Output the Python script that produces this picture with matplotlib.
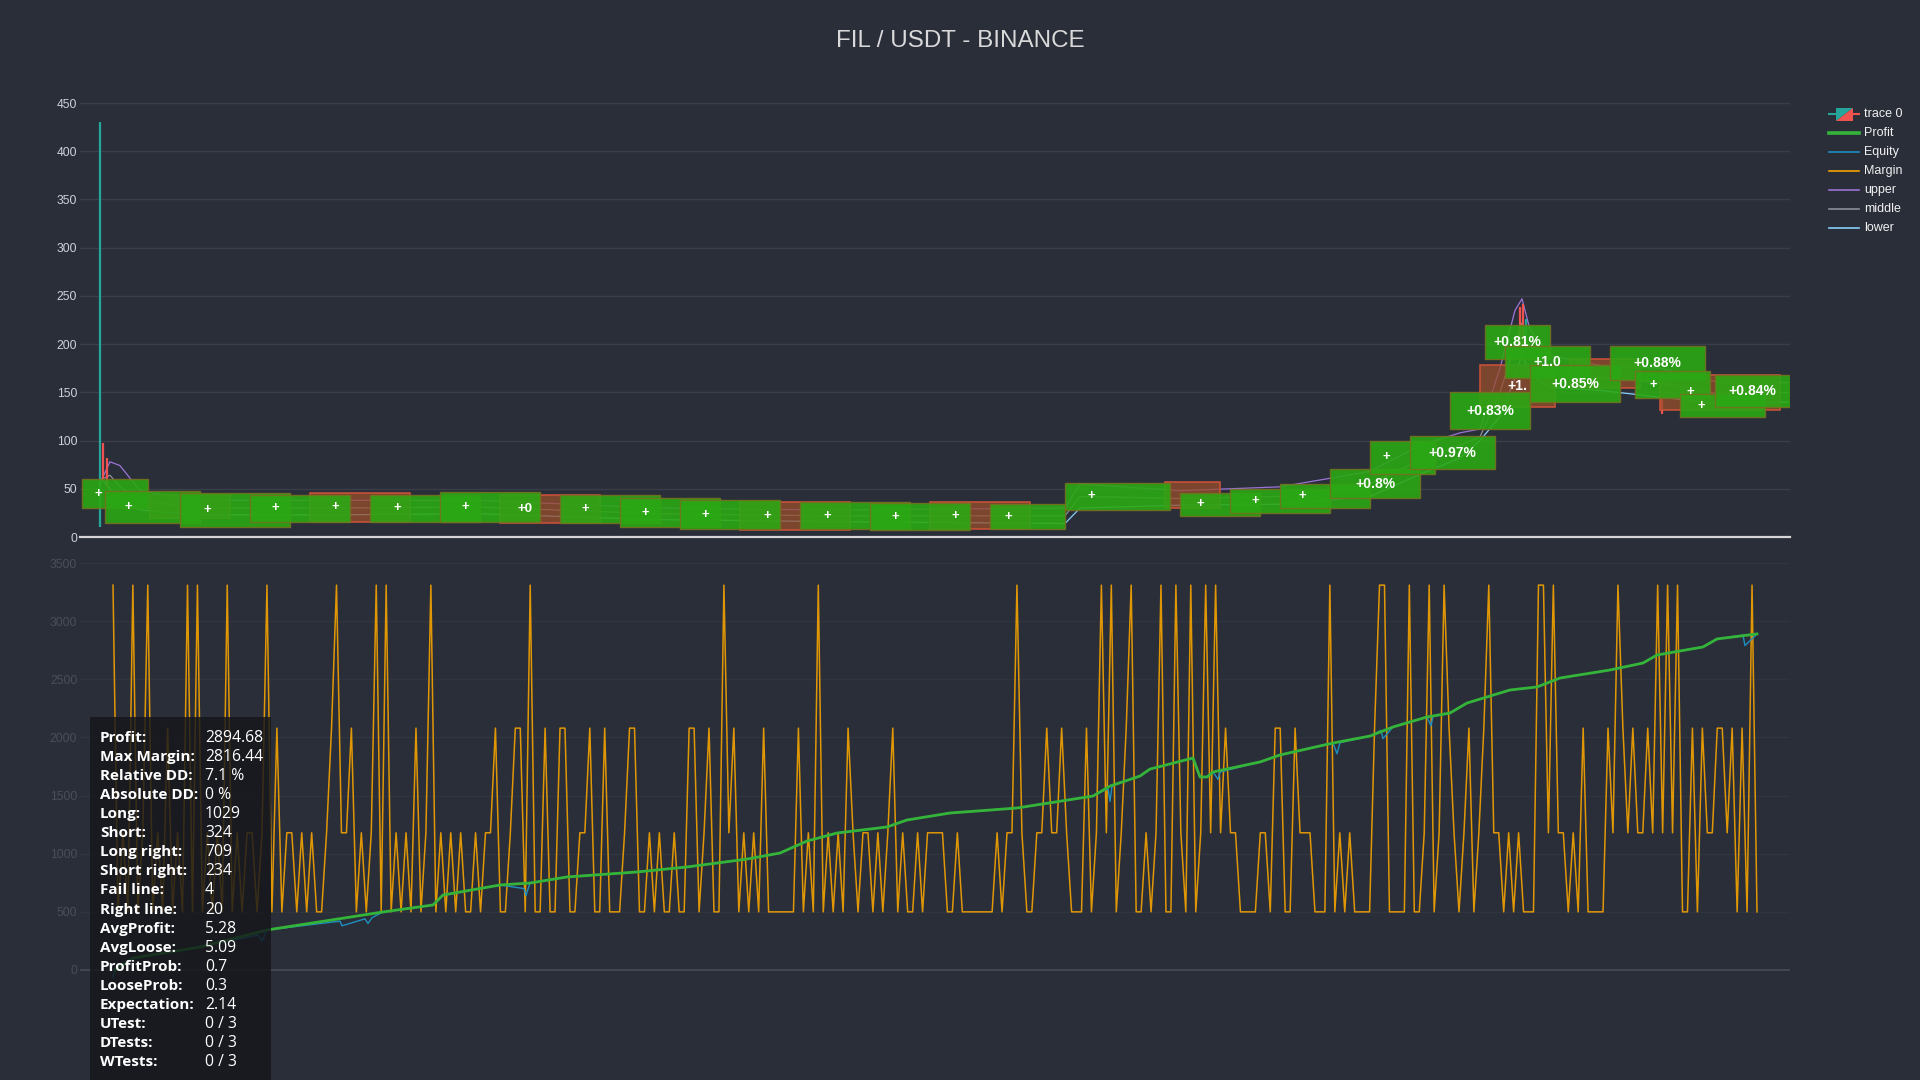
import matplotlib
matplotlib.use("Agg")
import matplotlib.pyplot as plt
from matplotlib.patches import Rectangle, Polygon
from matplotlib.lines import Line2D
import numpy as np

BG = "#2a2e39"
W, H = 1920, 1080

TITLE = "FIL / USDT - BINANCE"

# candles that poke out from under the trade boxes (bar index, low, high, rising)
candle_x = [20, 23, 27, 1440, 1443, 1446, 1582]
candle_lo = [10, 58, 52, 190, 200, 205, 128]
candle_hi = [430, 97, 82, 238, 242, 226, 146]
candle_up = [True, False, False, False, False, True, False]

# bollinger bands
band_x = [22, 30, 40, 60, 120, 250, 400, 580, 750, 985, 1000, 1100, 1200, 1290,
          1340, 1380, 1400, 1420, 1435, 1442, 1450, 1470, 1520, 1580, 1640, 1708]
band_upper = [60, 78, 74, 48, 38, 38, 38, 30, 28, 30, 55, 48, 52, 68,
              95, 108, 112, 175, 235, 247, 215, 188, 178, 175, 160, 160]
band_middle = [60, 64, 52, 38, 30, 30, 31, 24, 22, 22, 42, 40, 42, 55,
               80, 95, 104, 150, 200, 222, 190, 170, 165, 160, 148, 150]
band_lower = [60, 50, 36, 28, 23, 23, 24, 18, 16, 14, 30, 33, 34, 42,
              65, 82, 100, 125, 165, 190, 168, 155, 152, 145, 138, 140]

# trades: start bar, end bar, low, high, winner, label
trade_x0 = [2, 25, 70, 100, 170, 230, 290, 360, 420, 480, 540, 600, 660, 720, 790, 850, 910,
            985, 1085, 1100, 1150, 1200, 1250, 1290, 1330, 1370, 1400, 1405, 1425, 1450,
            1490, 1530, 1555, 1580, 1600, 1635]
trade_x1 = [68, 120, 150, 210, 270, 330, 400, 460, 520, 580, 640, 700, 770, 830, 890, 950, 985,
            1090, 1140, 1180, 1250, 1290, 1340, 1355, 1415, 1450, 1475, 1470, 1510, 1540,
            1560, 1625, 1630, 1700, 1685, 1710]
trade_lo = [30, 14, 20, 10, 16, 16, 16, 16, 14, 15, 10, 8, 7, 8, 7, 8, 8,
            28, 30, 22, 25, 30, 40, 65, 70, 112, 135, 185, 165, 140,
            155, 163, 144, 132, 124, 135]
trade_hi = [60, 48, 44, 46, 44, 46, 44, 47, 44, 44, 40, 38, 36, 36, 35, 36, 34,
            56, 57, 46, 50, 55, 70, 100, 105, 150, 178, 220, 198, 178,
            185, 198, 172, 168, 148, 168]
trade_win = [True, True, False, True, True, False, True, True, False, True, True, True, False,
             True, True, False, True, True, False, True, True, True, True, True, True, True,
             False, True, True, True, False, True, True, False, True, True]
trade_label = ["+", "+", "", "+", "+", "+", "+", "+", "+0", "+", "+", "+", "+", "+", "+", "+", "+",
               "+", "", "+", "+", "+", "+0.8%", "+", "+0.97%", "+0.83%", "+1.", "+0.81%", "+1.0",
               "+0.85%", "", "+0.88%", "+", "+", "+", "+0.84%"]

# profit / equity curves (bar index, value)
profit_x = [35, 53, 120, 187, 303, 353, 363, 420, 450, 487, 557, 607, 667, 700, 727, 757,
            807, 827, 870, 937, 1013, 1030, 1060, 1070, 1113, 1120, 1127, 1133, 1180, 1200,
            1253, 1290, 1313, 1347, 1370, 1387, 1430, 1457, 1480, 1530, 1563, 1577, 1623,
            1637, 1677]
profit_y = [0, 103, 198, 344, 499, 559, 645, 731, 748, 800, 843, 886, 954, 1006, 1109, 1178,
            1230, 1290, 1350, 1393, 1496, 1582, 1668, 1728, 1823, 1660, 1660, 1703, 1789, 1849,
            1952, 2012, 2090, 2176, 2210, 2296, 2408, 2434, 2511, 2580, 2640, 2709, 2778,
            2847, 2890]
equity_x = [33, 35, 53, 120, 178, 182, 187, 260, 262, 285, 288, 292, 303, 353, 363, 420,
            444, 446, 450, 487, 557, 607, 667, 700, 727, 757, 807, 827, 870, 937, 1013, 1028,
            1030, 1032, 1060, 1070, 1113, 1120, 1127, 1133, 1138, 1140, 1180, 1200, 1253, 1257,
            1260, 1290, 1301, 1303, 1313, 1347, 1351, 1353, 1370, 1387, 1430, 1457, 1480, 1530,
            1563, 1577, 1623, 1637, 1663, 1665, 1677]
equity_y = [-60, 0, 103, 198, 300, 250, 344, 420, 380, 440, 400, 450, 499, 559, 645, 731,
            700, 640, 748, 800, 843, 886, 954, 1006, 1109, 1178, 1230, 1290, 1350, 1393, 1496,
            1560, 1450, 1582, 1668, 1728, 1823, 1660, 1660, 1703, 1640, 1703, 1789, 1849, 1952,
            1860, 1955, 2012, 2060, 1990, 2090, 2176, 2100, 2180, 2210, 2296, 2408, 2434, 2511,
            2580, 2640, 2709, 2778, 2847, 2880, 2790, 2890]

# margin, one code per sample: 0=500, 1=1180, 2=2080, 3=3310
margin_levels = [500, 1180, 2080, 3310]
margin_codes = (
    "30103013010201030301010301011013020110101001231120101303010102013010101001011200122"
    "03002002200112002000122001010010022012003120101020000002010301010210110101201001011"
    "11001000000010113100112112100020131301230010130031030131312110000110220021110003010100"
    "00233000030013013210120123110101000331311010200002132121121313130020211221202030"
)
margin_start, margin_end = 33, 1677

stat_names = ["Profit:", "Max Margin:", "Relative DD:", "Absolute DD:", "Long:", "Short:",
              "Long right:", "Short right:", "Fail line:", "Right line:", "AvgProfit:",
              "AvgLoose:", "ProfitProb:", "LooseProb:", "Expectation:", "UTest:", "DTests:",
              "WTests:"]
stat_values = ["2894.68", "2816.44", "7.1 %", "0 %", "1029", "324", "709", "234", "4", "20",
               "5.28", "5.09", "0.7", "0.3", "2.14", "0 / 3", "0 / 3", "0 / 3"]

legend_names = ["trace 0", "Profit", "Equity", "Margin", "upper", "middle", "lower"]

C_UP, C_DOWN = "#26a69a", "#ef5350"
C_PROFIT, C_EQUITY, C_MARGIN = "#34b53a", "#1f8fc0", "#f5a300"
C_UPPER, C_MIDDLE, C_LOWER = "#9d74d6", "#8a8f99", "#87cefa"


def fx(px):
    return px / W


def fy(py):
    return 1 - py / H


plt.rcParams["font.family"] = ["Liberation Sans", "DejaVu Sans"]
fig = plt.figure(figsize=(19.2, 10.8), dpi=100, facecolor=BG)

fig.text(0.5, fy(41), TITLE, ha="center", va="center", fontsize=17.4, color="#d9d9d9")

# ---- price panel
ax = fig.add_axes([fx(80), fy(537), fx(1710), 442 / H])
ax.set_facecolor(BG)
ax.set_xlim(0, 1710)
ax.set_ylim(0, 458.3)
for s in ax.spines.values():
    s.set_visible(False)
ax.set_xticks([])
ax.set_yticks(np.arange(0, 451, 50))
ax.tick_params(axis="y", length=0, pad=2, labelsize=8.7, labelcolor="#cdd1da")
for v in range(50, 451, 50):
    ax.axhline(v, color="#3a3e4a", lw=1, zorder=0)
ax.axhline(0, color="#d6d6d6", lw=1.6, zorder=5, clip_on=False)

ax.plot(band_x, band_upper, color=C_UPPER, lw=0.9, zorder=1)
ax.plot(band_x, band_middle, color=C_MIDDLE, lw=0.9, zorder=1)
ax.plot(band_x, band_lower, color=C_LOWER, lw=0.9, zorder=1)
for x, lo, hi, up in zip(candle_x, candle_lo, candle_hi, candle_up):
    ax.vlines(x, lo, hi, color=C_UP if up else C_DOWN, lw=1.6, zorder=1.5)

for x0, x1, lo, hi, win in zip(trade_x0, trade_x1, trade_lo, trade_hi, trade_win):
    if win:
        ax.add_patch(Rectangle((x0, lo), x1 - x0, hi - lo, facecolor=(0.17, 0.66, 0.08, 0.9),
                               edgecolor=(0.45, 0.45, 0.12, 0.9), lw=1.0, zorder=2.2))
    else:
        ax.add_patch(Rectangle((x0, lo), x1 - x0, hi - lo, facecolor=(0.60, 0.30, 0.16, 0.75),
                               edgecolor=(0.80, 0.32, 0.22, 0.95), lw=1.2, zorder=2.0))
for x0, x1, lo, hi, lab in zip(trade_x0, trade_x1, trade_lo, trade_hi, trade_label):
    if lab:
        big = len(lab) > 2
        ax.text(x0 + (x1 - x0) * (0.5 if big else 0.25), (lo + hi) / 2, lab,
                ha="center", va="center", color="white", fontweight="bold",
                fontsize=10 if big else 9.5, zorder=3)

# ---- equity / margin panel
bx = fig.add_axes([fx(80), fy(985), fx(1710), 430 / H])
bx.set_facecolor("none")
bx.set_xlim(0, 1710)
bx.set_ylim(-129, 3569)
for s in bx.spines.values():
    s.set_visible(False)
bx.set_xticks([])
bx.set_yticks(np.arange(0, 3501, 500))
bx.tick_params(axis="y", length=0, pad=2, labelsize=8.7, labelcolor="#4a4e58")
for v in range(500, 3501, 500):
    bx.axhline(v, color="#30343f", lw=1, zorder=0)
bx.axhline(0, color="#474b55", lw=1.2, zorder=0)

margin = [margin_levels[int(c)] for c in margin_codes]
margin_x = np.linspace(margin_start, margin_end, len(margin))
bx.plot(margin_x, margin, color=C_MARGIN, lw=1.1, alpha=0.9, zorder=2)
bx.plot(equity_x, equity_y, color=C_EQUITY, lw=1.0, zorder=3)
bx.plot(profit_x, profit_y, color=C_PROFIT, lw=2.0, zorder=4)

# ---- stats box
fig.add_artist(Rectangle((fx(90), 0), fx(181), 363 / H, transform=fig.transFigure,
                         facecolor="#14161b", alpha=0.82, edgecolor="none", zorder=5))
for i, (name, val) in enumerate(zip(stat_names, stat_values)):
    y = fy(738 + 19.06 * i)
    fig.text(fx(100), y, name, ha="left", va="center", fontsize=11, color="white",
             fontweight="bold", family=["Open Sans", "DejaVu Sans"], zorder=6)
    fig.text(fx(205), y, val, ha="left", va="center", fontsize=11.3, color="white",
             family=["Open Sans", "DejaVu Sans"], zorder=6)

# ---- legend
rows = [114, 133, 152, 171, 190, 209, 228]
leg_styles = [None, (C_PROFIT, 2.6), (C_EQUITY, 1.2), (C_MARGIN, 1.2),
              (C_UPPER, 1.2), (C_MIDDLE, 1.2), (C_LOWER, 1.2)]
for name, py, st in zip(legend_names, rows, leg_styles):
    if st is None:
        fig.add_artist(Line2D([fx(1829), fx(1836)], [fy(py)] * 2, color=C_UP, lw=1.5,
                              transform=fig.transFigure))
        fig.add_artist(Line2D([fx(1853), fx(1859)], [fy(py)] * 2, color=C_DOWN, lw=1.5,
                              transform=fig.transFigure))
        fig.add_artist(Polygon([(fx(1836), fy(108)), (fx(1853), fy(108)), (fx(1836), fy(121))],
                               closed=True, facecolor=C_UP, edgecolor="none",
                               transform=fig.transFigure))
        fig.add_artist(Polygon([(fx(1853), fy(108)), (fx(1853), fy(121)), (fx(1836), fy(121))],
                               closed=True, facecolor=C_DOWN, edgecolor="none",
                               transform=fig.transFigure))
    else:
        fig.add_artist(Line2D([fx(1829), fx(1859)], [fy(py)] * 2, color=st[0], lw=st[1],
                              transform=fig.transFigure))
    fig.text(fx(1864), fy(py), name, ha="left", va="center", fontsize=9, color="#f0f0f0")

fig.savefig("out.png", dpi=100, facecolor=BG)
